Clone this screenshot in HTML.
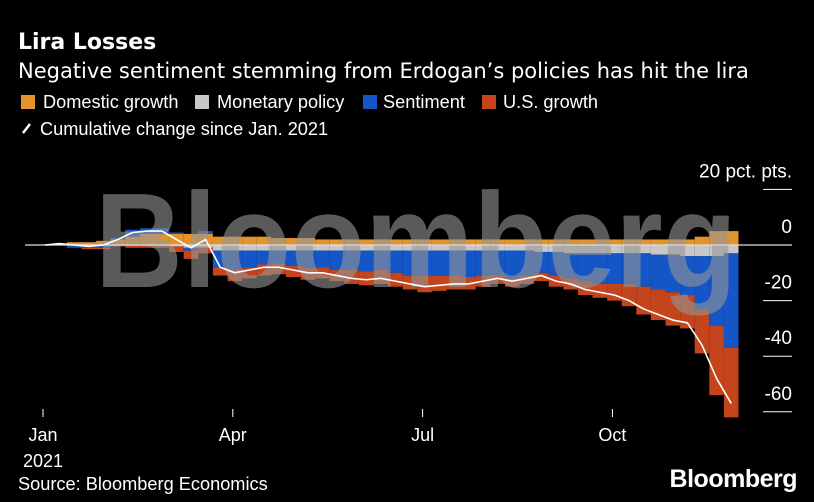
<!DOCTYPE html>
<html><head><meta charset="utf-8"><style>
body{margin:0;background:#000;width:814px;height:502px;overflow:hidden;font-family:"Liberation Sans",sans-serif;color:#fff}
svg{position:absolute;left:0;top:0}
</style></head><body>
<svg width="814" height="502">
<text x="18" y="49" font-family="DejaVu Sans,sans-serif" font-weight="bold" font-size="22" fill="#fff">Lira Losses</text>
<text x="18" y="78" font-family="DejaVu Sans,sans-serif" font-size="21" fill="#fff">Negative sentiment stemming from Erdogan’s policies has hit the lira</text>
<g font-size="18.2" fill="#fff">
<rect x="21" y="95" width="14" height="14" fill="#e3932e"/><text x="43" y="108">Domestic growth</text>
<rect x="195" y="95" width="14" height="14" fill="#c8c8c8"/><text x="217" y="108">Monetary policy</text>
<rect x="363" y="95" width="14" height="14" fill="#1456c8"/><text x="383" y="108">Sentiment</text>
<rect x="482" y="95" width="14" height="14" fill="#c4441c"/><text x="503" y="108">U.S. growth</text>
<line x1="23" y1="133" x2="30" y2="124" stroke="#fff" stroke-width="2.5"/><text x="40" y="135">Cumulative change since Jan. 2021</text>
</g>
<g id="plot"></g>
<text x="95" y="287" font-family="Liberation Sans,sans-serif" font-weight="bold" font-size="135" fill="rgba(150,150,150,0.6)" textLength="642" lengthAdjust="spacingAndGlyphs">Bloomberg</text>
<g id="axes"></g>
<text x="18" y="490" font-size="18.2" fill="#fff">Source: Bloomberg Economics</text>
<text x="797" y="487" font-size="25" font-weight="bold" fill="#fff" text-anchor="end" letter-spacing="-0.5">Bloomberg</text>
</svg>
<script>
const cumulative=[0,0.5,0,-0.5,0,2,4.5,5,5,2,-1,2,-8,-10,-9,-8,-8,-9,-10,-10,-11,-12,-12.5,-12,-13,-14,-15,-14.5,-14,-14,-13,-12,-13,-12,-11,-13,-14,-16,-17,-18,-20,-23,-25,-27,-28,-36,-48,-57];
const domestic=[0,0.5,1,1,1.5,2,3,4,4,4,4,4,3,3,3,3,2.5,2.5,2.5,2,2,2,2,2,2,2,2,2,2,2,2,2,2,2,2,2,2,2,2,2,2,2,2,2,2,3,5,5];
const monetary=[0,0,0,0,0,0,0,0,0,-0.5,-1,-1,-2,-2,-2,-2,-2,-2,-2,-2,-2,-2,-2,-2,-2,-2,-2,-2,-2,-2,-2,-2,-2,-2,-2.5,-2.5,-3,-3,-3,-3,-3,-3,-3.5,-3.5,-4,-4,-4,-3];
const sentiment=[0,0,-1,-1,-1,0.5,2.5,2,2,0.5,-1,1,-6,-7,-6,-5,-4.5,-5.5,-6,-6,-7,-7,-7.5,-7,-8,-9,-9,-9,-9,-9.5,-9,-9,-10,-9,-7.5,-8.5,-9,-10,-11,-11,-11,-12,-12.5,-13.5,-14,-19,-25,-34];
const usGrowth=[0,0,0,-0.5,-0.5,-0.5,-1,-1,-1,-2,-3,-2,-3,-4,-4,-4,-4,-4,-4.5,-4,-4,-5,-5,-5,-5,-5,-6,-5.5,-5,-4.5,-4,-3,-3,-3,-3,-4,-4,-5,-5,-6,-8,-10,-11,-12,-12,-16,-25,-25];
const yTicks=[20,0,-20,-40,-60];
const yTickLabels=["20 pct. pts.","0","-20","-40","-60"];
const xTickWeeks=[0,13,26,39];
const xTickLabels=["Jan","Apr","Jul","Oct"];

const NS="http://www.w3.org/2000/svg";
const x=i=>45+i*14.6;
const y=v=>245-v*2.78;
const plot=document.getElementById('plot'),axes=document.getElementById('axes');
function mk(tag,attrs,parent){const e=document.createElementNS(NS,tag);for(const k in attrs)e.setAttribute(k,attrs[k]);parent.appendChild(e);return e;}
const series=[[domestic,'#e3932e','domestic'],[monetary,'#c8c8c8','monetary'],[sentiment,'#1456c8','sentiment'],[usGrowth,'#c4441c','us-growth']];
const w=14.6;
for(let i=0;i<cumulative.length;i++){
  let pos=0,neg=0;
  for(const [arr,col,nm] of series){
    const v=arr[i];let y0,y1;
    if(v>=0){y0=pos;y1=pos+v;pos=y1;}else{y0=neg;y1=neg+v;neg=y1;}
    const r=mk('rect',{x:x(i)-w/2,y:Math.min(y(y0),y(y1)),width:w,height:Math.abs(y(y1)-y(y0)),fill:col},plot);
    
    
  }
}
const z=mk('line',{x1:25,x2:792,y1:y(0),y2:y(0),stroke:'#ddd','stroke-width':1.2},axes);


let d='';cumulative.forEach((v,i)=>{d+=(i?'L':'M')+x(i)+','+y(v);});
const ln=mk('path',{d:d,fill:'none',stroke:'#fff','stroke-width':1.6},axes);


yTicks.forEach((v,k)=>{
  if(v!==0){const t=mk('line',{x1:763,x2:792,y1:y(v),y2:y(v),stroke:'#fff','stroke-width':1},axes);
  
  }
  const tx=mk('text',{x:792,y:y(v)-12,'text-anchor':'end','font-size':19,fill:'#fff'},axes);
  tx.textContent=yTickLabels[k];
  
  
});
xTickWeeks.forEach((wk,k)=>{
  const xx=x(wk)-2;
  const t=mk('line',{x1:xx,x2:xx,y1:409,y2:417,stroke:'#fff','stroke-width':1},axes);
  
  
  const tx=mk('text',{x:xx,y:441,'text-anchor':'middle','font-size':18,fill:'#fff'},axes);
  tx.textContent=xTickLabels[k];
  
  
});
const yr=mk('text',{x:43,y:467,'text-anchor':'middle','font-size':18,fill:'#fff'},axes);
yr.textContent='2021';


</script>
</body></html>
